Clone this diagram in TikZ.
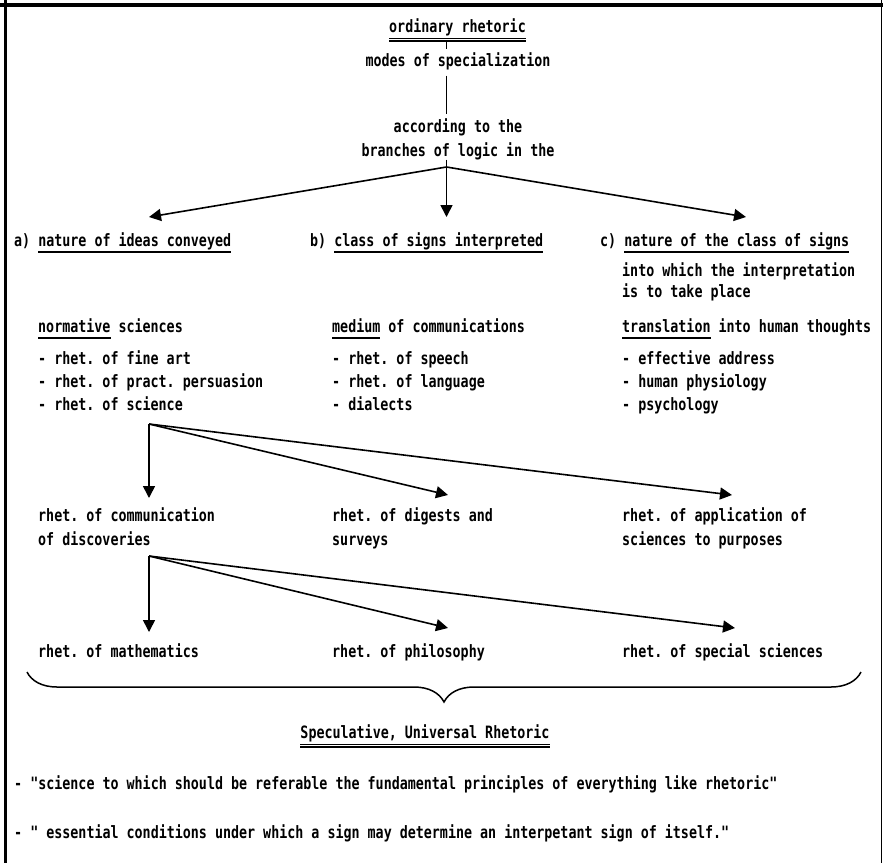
\documentclass[tikz,border=0pt]{standalone}
\usepackage{fontspec}
\newfontfamily\typefont[FakeStretch=0.785]{DejaVu Sans Mono Bold}
\usepackage{tikz}
\usetikzlibrary{arrows.meta, decorations.pathreplacing}

% underlines drawn as rules under the text
\newsavebox{\ulbox}
\newcommand{\ul}[1]{\sbox\ulbox{#1}\rlap{\rule[-6.8pt]{\wd\ulbox}{1.6pt}}#1}
\newcommand{\dul}[1]{\sbox\ulbox{#1}\rlap{\rule[-7.2pt]{\wd\ulbox}{1.3pt}}\rlap{\rule[-9.7pt]{\wd\ulbox}{1.3pt}}#1}

\begin{document}
\frenchspacing
\begin{tikzpicture}[x=1pt, y=-1pt,
    lbl/.style={font=\typefont\fontsize{17}{23}\selectfont, inner sep=0pt, anchor=base west, align=left},
    arr/.style={-{Triangle[length=12pt,width=12pt]}, line width=1.6pt},
    link/.style={line width=1.6pt},
    frame/.style={line width=#1}]
  \useasboundingbox (0,0) rectangle (883,863);
  \draw[frame=4pt] (0,5) -- (883,5);
  \draw[frame=3pt] (5,0) -- (5,863);
  \draw[frame=1.5pt] (881.5,0) -- (881.5,863);

  % top of the tree (multi-line nodes sit on their last line)
  \node[lbl, anchor=base] (ord) at (457.5,32) {\dul{ordinary rhetoric}};
  \node[lbl, anchor=base] (modes) at (458,66) {modes of specialization};
  \node[lbl, anchor=base, align=center, font=\typefont\fontsize{17}{24}\selectfont] (logic) at (458,156)
    {according to the\\branches of logic in the};
  \coordinate (fork1) at (446.5,167);
  \draw[link, shorten >=3pt] (ord.south -| fork1) -- (modes.north -| fork1);
  \draw[link, shorten <=6pt, shorten >=4pt] (modes.south -| fork1) -- (logic.north -| fork1);
  \draw[link] (logic.south -| fork1) -- (fork1);

  % three branches
  \node[lbl] (la) at (14,246) {a) \ul{nature of ideas conveyed}};
  \node[lbl] (lb) at (310,246) {b) \ul{class of signs interpreted}};
  \node[lbl] (lc) at (600,246) {c) \ul{nature of the class of signs}};
  \node[lbl, font=\typefont\fontsize{17}{21}\selectfont] (into) at (622,297)
    {into which the interpretation\\is to take place};
  \coordinate (ta) at (149,217);
  \coordinate (tb) at (446.5,217);
  \coordinate (tc) at (746,217);
  \draw[arr] (fork1) -- (ta);
  \draw[arr] (fork1) -- (tb);
  \draw[arr] (fork1) -- (tc);

  \node[lbl] (norm) at (38,332) {\ul{normative} sciences};
  \node[lbl] (medium) at (332,332) {\ul{medium} of communications};
  \node[lbl] (transl) at (622,332) {\ul{translation} into human thoughts};

  \node[lbl] (lista) at (38,410) {- rhet. of fine art\\- rhet. of pract. persuasion\\- rhet. of science};
  \node[lbl] (listb) at (332,410) {- rhet. of speech\\- rhet. of language\\- dialects};
  \node[lbl] (listc) at (622,410) {- effective address\\- human physiology\\- psychology};

  % rhet. of science
  \coordinate (fork2) at (149,424);
  \coordinate (t2a) at (149,498);
  \coordinate (t2b) at (448,495);
  \coordinate (t2c) at (732,495);
  \draw[arr] (fork2) -- (t2a);
  \draw[arr] (fork2) -- (t2b);
  \draw[arr] (fork2) -- (t2c);

  \node[lbl, font=\typefont\fontsize{17}{24}\selectfont] (comm) at (38,545) {rhet. of communication\\of discoveries};
  \node[lbl, font=\typefont\fontsize{17}{24}\selectfont] (digest) at (332,545) {rhet. of digests and\\surveys};
  \node[lbl, font=\typefont\fontsize{17}{24}\selectfont] (applic) at (622,545) {rhet. of application of\\sciences to purposes};

  % communication of discoveries
  \coordinate (fork3) at (149,556);
  \coordinate (t3a) at (149,632);
  \coordinate (t3b) at (448,628);
  \coordinate (t3c) at (735,628);
  \draw[arr] (fork3) -- (t3a);
  \draw[arr] (fork3) -- (t3b);
  \draw[arr] (fork3) -- (t3c);

  \node[lbl] (math) at (38,657) {rhet. of mathematics};
  \node[lbl] (philo) at (332,657) {rhet. of philosophy};
  \node[lbl] (special) at (622,657) {rhet. of special sciences};

  \coordinate (bl) at (27,672);
  \coordinate (br) at (861,672);
  \draw[line width=1.5pt, decorate, decoration={brace, mirror, amplitude=30pt}] (bl) -- (br);

  \node[lbl, anchor=base] (spec) at (425,738) {\dul{Speculative, Universal Rhetoric}};
  \node[lbl] (qa) at (14,789) {- "science to which should be referable the fundamental principles of everything like rhetoric"};
  \node[lbl] (qb) at (14,838) {- " essential conditions under which a sign may determine an interpetant sign of itself."};
\end{tikzpicture}
\end{document}
